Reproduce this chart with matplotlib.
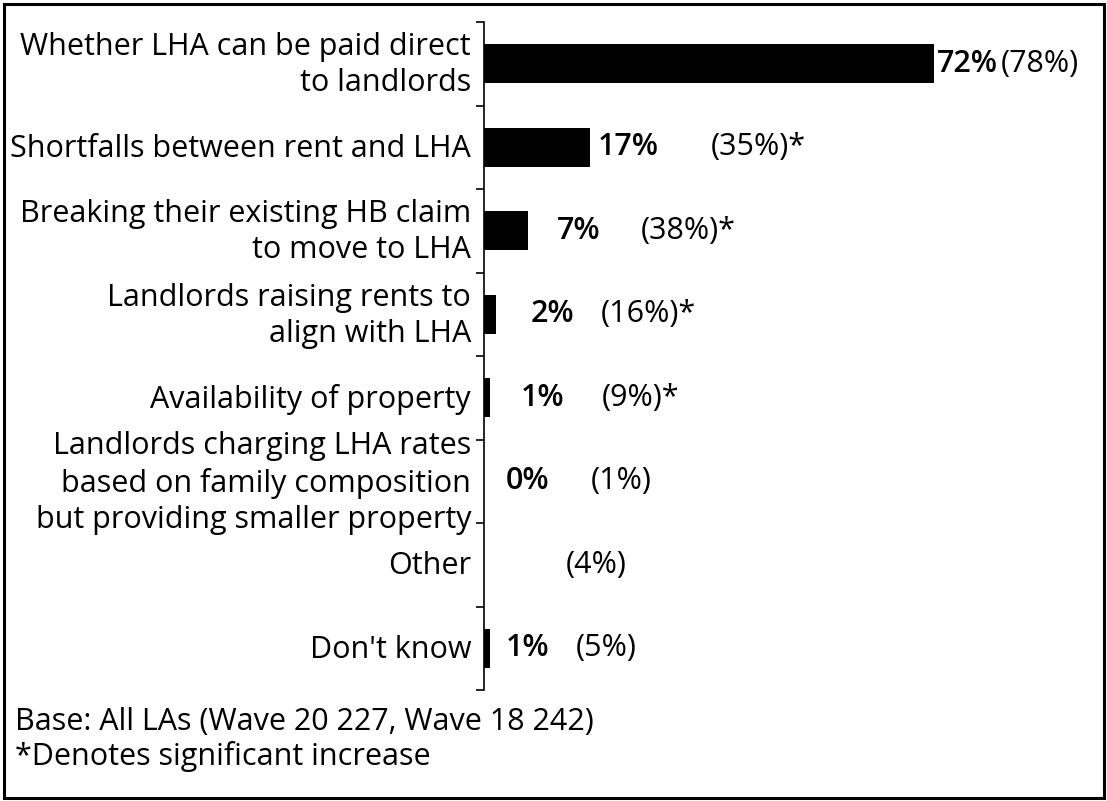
import matplotlib.pyplot as plt
from matplotlib.patches import Rectangle
import matplotlib.transforms as mtransforms

plt.rcParams['font.family'] = ['Open Sans', 'DejaVu Sans']

categories = ['Whether LHA can be paid direct\nto landlords',
              'Shortfalls between rent and LHA',
              'Breaking their existing HB claim\nto move to LHA',
              'Landlords raising rents to\nalign with LHA',
              'Availability of property',
              'Landlords charging LHA rates\nbased on family composition\nbut providing smaller property',
              'Other',
              "Don't know"]
wave20 = [72, 17, 7, 2, 1, 0, None, 1]
wave18 = [78, 35, 38, 16, 9, 1, 4, 5]
signif = [False, True, True, True, True, False, False, False]

# label layout (x in data units)
bold_x = [72.5, 18.2, 11.7, 7.4, 5.9, 3.5, None, 3.5]
paren_x = [82.6, 36.3, 25.0, 18.6, 18.9, 17.1, 13.1, 14.7]

W, H = 1107, 801
fig = plt.figure(figsize=(W / 100, H / 100), dpi=100)
ax = fig.add_axes([484 / W, 1 - 690 / H, (1100 - 484) / W, (690 - 22) / H])

n = len(categories)
ypos = list(range(n))
vals = [v if v is not None else 0 for v in wave20]
ax.barh(ypos, vals, height=0.47, color='black')
ax.set_xlim(0, (1100 - 484) / 6.25)
ax.set_ylim(n - 0.5, -0.5)

for s in ['top', 'right', 'bottom']:
    ax.spines[s].set_visible(False)
ax.spines['left'].set_linewidth(1.2)
ax.set_xticks([])
ax.set_yticks([i - 0.5 for i in range(n + 1)])
ax.set_yticklabels([])
ax.tick_params(axis='y', direction='out', length=6, width=1.2)

fs = 22
trans = mtransforms.blended_transform_factory(ax.transAxes, ax.transData)
for i, lab in enumerate(categories):
    ax.text(-0.021, i + 0.02, lab, transform=trans, ha='right', va='center',
            multialignment='right', fontsize=fs, linespacing=1.26)

for i in range(n):
    if wave20[i] is not None:
        ax.text(bold_x[i], i, '%d%%' % wave20[i], ha='left', va='center',
                fontsize=fs, fontweight='semibold')
    txt = '(%d%%)' % wave18[i] + ('*' if signif[i] else '')
    ax.text(paren_x[i], i, txt, ha='left', va='center', fontsize=fs)

fig.text(15 / W, 1 - 722 / H, 'Base: All LAs (Wave 20 227, Wave 18 242)',
         ha='left', va='center', fontsize=fs)
fig.text(15 / W, 1 - 756 / H, '*Denotes significant increase',
         ha='left', va='center', fontsize=fs)

fig.patches.append(Rectangle((4 / W, 3 / H), 1100 / W, 794 / H,
                             transform=fig.transFigure, fill=False,
                             edgecolor='black', linewidth=2.2))

fig.savefig('out.png', dpi=100)
